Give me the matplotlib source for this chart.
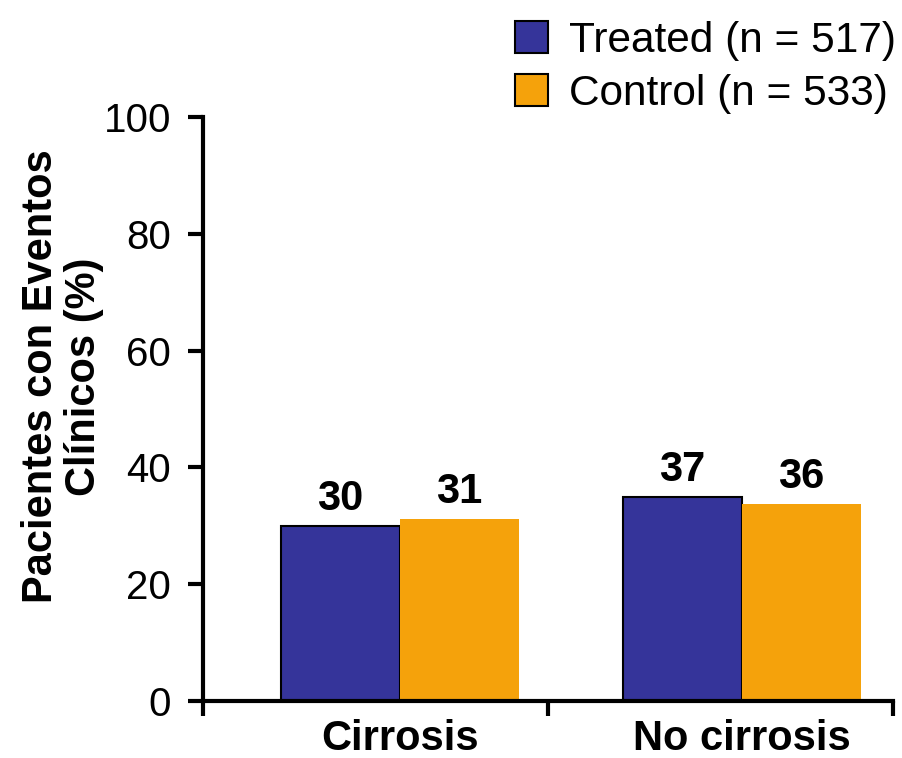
import numpy as np
import matplotlib
matplotlib.use('Agg')
import matplotlib.pyplot as plt
import matplotlib.patches as mpatches

plt.rcParams['font.family'] = ['Liberation Sans', 'DejaVu Sans']

# data
categories = ['Cirrosis', 'No cirrosis']
series_names = ['Treated (n = 517)', 'Control (n = 533)']
treated_vals = [30.0, 34.9]
control_vals = [31.2, 33.7]
treated_labels = ['30', '37']
control_labels = ['31', '36']
y_ticks = [0, 20, 40, 60, 80, 100]

navy = '#35349a'
orange = '#f5a20b'

fig = plt.figure(figsize=(9.02, 7.58), dpi=100)
ax = fig.add_axes([0.225, 0.0752, 0.765, 0.7704])

x = np.arange(len(categories))
w = 0.348
b1 = ax.bar(x - w / 2, treated_vals, w, color=navy, edgecolor='black', linewidth=1.5)
b2 = ax.bar(x + w / 2, control_vals, w, color=orange, edgecolor='none')

for bars, labs in [(b1, treated_labels), (b2, control_labels)]:
    for r, t in zip(bars, labs):
        ax.annotate(t, (r.get_x() + r.get_width() / 2, r.get_height()),
                    xytext=(0, 5), textcoords='offset points',
                    ha='center', va='bottom', fontsize=30, fontweight='bold')

ax.set_ylim(0, 100)
ax.set_xlim(-0.576, 1.442)
ax.set_yticks(y_ticks)
ax.set_xticks([-0.576, 0.433, 1.442])
ax.set_xticklabels(['', '', ''])
ax.set_xticks(x, minor=True)
ax.set_xticklabels(categories, minor=True, fontsize=30, fontweight='bold')
ax.tick_params(axis='x', which='minor', length=0, pad=13)
ax.tick_params(axis='x', which='major', length=11, width=3, direction='out')
ax.tick_params(axis='y', length=11, width=3, direction='out', labelsize=29, pad=12)

for s in ['top', 'right']:
    ax.spines[s].set_visible(False)
for s in ['left', 'bottom']:
    ax.spines[s].set_linewidth(3)

ax.set_ylabel('Pacientes con Eventos\nClínicos (%)', fontsize=30, fontweight='bold',
              linespacing=1.12)
ax.yaxis.set_label_coords(-0.143, 0.556)

handles = [mpatches.Patch(facecolor=navy, edgecolor='black', linewidth=1.5, label=series_names[0]),
           mpatches.Patch(facecolor=orange, edgecolor='black', linewidth=1.5, label=series_names[1])]
fig.legend(handles=handles, loc='upper right', bbox_to_anchor=(1.022, 1.006),
           frameon=False, fontsize=30.5, handlelength=0.78, handleheight=0.78,
           handletextpad=0.5, labelspacing=0.3, borderpad=0.1)

fig.savefig('out.png', dpi=100)
